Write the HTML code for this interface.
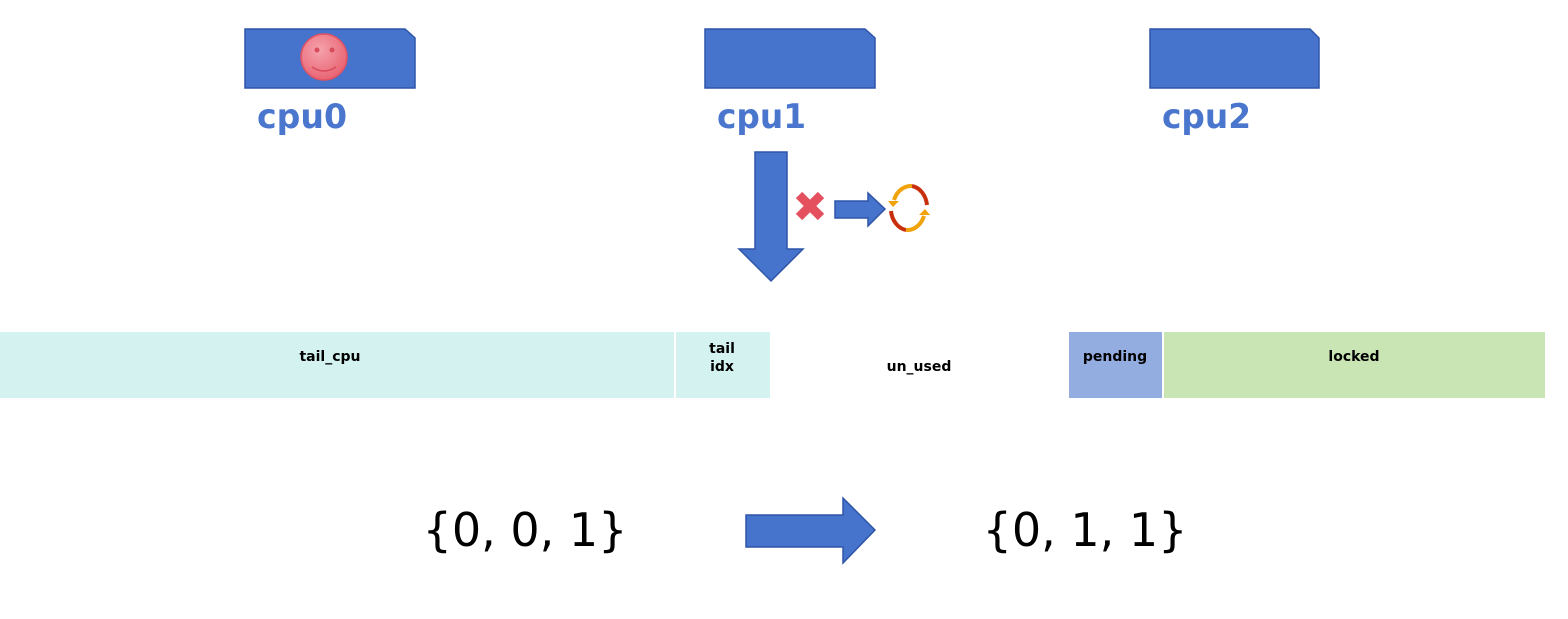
<!DOCTYPE html>
<html><head><meta charset="utf-8"><style>body{margin:0;background:#fff}svg{display:block}</style></head><body>
<svg width="1568" height="619" viewBox="0 0 1568 619" xmlns="http://www.w3.org/2000/svg">
<defs><radialGradient id="g" cx="40%" cy="35%" r="70%"><stop offset="0" stop-color="#f5a3ad"/><stop offset="1" stop-color="#e8606f"/></radialGradient></defs>
<g fill="#4674cc" stroke="#2f55a8" stroke-width="1.5">
<path d="M245,29 H405 L415,38 V88 H245 Z"/>
<path d="M705,29 H865 L875,38 V88 H705 Z"/>
<path d="M1150,29 H1310 L1319,38 V88 H1150 Z"/>
<path d="M755,152 H787 V249 H803 L771,281 L739,249 H755 Z"/>
<path d="M835,201 H868 V193 L885,209 L868,226 V218 H835 Z"/>
<path d="M746,515 H843 V498 L875,530 L843,563 V547 H746 Z"/>
</g>
<circle cx="324" cy="57" r="23" fill="url(#g)" stroke="#e05263" stroke-width="1.5"/>
<circle cx="317" cy="50" r="2.5" fill="#d84a5c"/><circle cx="332" cy="50" r="2.5" fill="#d84a5c"/>
<path d="M312,67 Q324,75 336,67" fill="none" stroke="#d84a5c" stroke-width="1.5"/>
<g font-family="'DejaVu Sans','Liberation Sans',sans-serif" font-weight="bold" font-size="34" fill="#4a76cd">
<text x="257" y="128" textLength="90" lengthAdjust="spacingAndGlyphs">cpu0</text>
<text x="717" y="128" textLength="89" lengthAdjust="spacingAndGlyphs">cpu1</text>
<text x="1162" y="128" textLength="89" lengthAdjust="spacingAndGlyphs">cpu2</text>
</g>
<g stroke="#e5505f" stroke-width="9"><line x1="799" y1="195" x2="821" y2="217"/><line x1="821" y1="195" x2="799" y2="217"/></g>
<g fill="none" stroke-width="4">
<path d="M927,205 A18,22 0 0 0 912,186" stroke="#c8300d"/>
<path d="M912,186 A18,22 0 0 0 894,200" stroke="#f0a30a"/>
<path d="M891,211 A18,22 0 0 0 906,230" stroke="#c8300d"/>
<path d="M906,230 A18,22 0 0 0 924,216" stroke="#f0a30a"/>
</g>
<path d="M888,201 L899,201 L893,207 Z" fill="#f0a30a"/><path d="M919,215 L930,215 L925,209 Z" fill="#f0a30a"/>
<rect x="0" y="332" width="674" height="66" fill="#d4f3f0"/>
<rect x="676" y="332" width="94" height="66" fill="#d4f3f0"/>
<rect x="1069" y="332" width="93" height="66" fill="#93ade0"/>
<rect x="1164" y="332" width="381" height="66" fill="#c9e5b3"/>
<g font-family="'DejaVu Sans','Liberation Sans',sans-serif" font-weight="bold" font-size="14" fill="#000" text-anchor="middle">
<text x="330" y="361">tail_cpu</text>
<text x="722" y="353">tail</text><text x="722" y="371">idx</text>
<text x="919" y="371">un_used</text>
<text x="1115" y="361">pending</text>
<text x="1354" y="361">locked</text>
</g>
<g font-family="'DejaVu Sans','Liberation Sans',sans-serif" font-size="46" fill="#000" text-anchor="middle">
<text x="525" y="546">{0, 0, 1}</text>
<text x="1085" y="546">{0, 1, 1}</text>
</g>
</svg>
</body></html>
